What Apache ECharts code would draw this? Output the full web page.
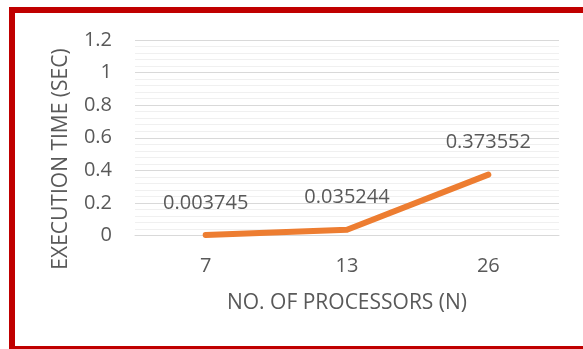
<!DOCTYPE html>
<html>
<head>
<meta charset="utf-8">
<script src="https://cdn.jsdelivr.net/npm/echarts@6/dist/echarts.min.js"></script>
<style>html,body{margin:0;padding:0;background:#fff;}#c{width:583px;height:349px;}</style>
</head>
<body>
<div id="c"></div>
<script>
const categories = ['7', '13', '26'];
const values = [0.003745, 0.035244, 0.373552];
const yMin = 0, yMax = 1.2, yInterval = 0.2;
const xTitle = 'NO. OF PROCESSORS (N)';
const yTitle = 'EXECUTION TIME (SEC)';

const FONT = 'Open Sans';
const GREY = '#595959';
const chart = echarts.init(document.getElementById('c'), null, {renderer: 'canvas'});
chart.setOption({
  backgroundColor: '#ffffff',
  animation: false,
  grid: {left: 135, right: 24, top: 40, bottom: 113.5, containLabel: false},
  xAxis: {
    type: 'category',
    data: categories,
    boundaryGap: true,
    axisLine: {show: true, lineStyle: {color: '#d9d9d9', width: 1}},
    axisTick: {show: false},
    axisLabel: {color: GREY, fontFamily: FONT, fontSize: 20, margin: 21}
  },
  yAxis: {
    type: 'value',
    min: yMin, max: yMax, interval: yInterval,
    axisLine: {show: false},
    axisTick: {show: false},
    axisLabel: {color: GREY, fontFamily: FONT, fontSize: 20, margin: 23},
    splitLine: {show: true, lineStyle: {color: '#d9d9d9', width: 1}},
    minorTick: {show: false, splitNumber: 5},
    minorSplitLine: {show: true, lineStyle: {color: '#f0f0f0', width: 1}}
  },
  series: [{
    type: 'line',
    data: values,
    symbol: 'circle',
    symbolSize: 0.1,
    showSymbol: true,
    lineStyle: {color: '#ED7D31', width: 6, cap: 'round', join: 'round'},
    itemStyle: {color: '#ED7D31'},
    label: {
      show: true, position: 'top', distance: 22,
      color: GREY, fontFamily: FONT, fontSize: 20,
      formatter: p => String(p.value)
    }
  }],
  graphic: [
    {type: 'rect', shape: {x: 9, y: 7, width: 600, height: 6}, style: {fill: '#C00000'}},
    {type: 'rect', shape: {x: 9, y: 7, width: 6, height: 342}, style: {fill: '#C00000'}},
    {type: 'rect', shape: {x: 9, y: 346, width: 600, height: 3}, style: {fill: '#C00000'}},
    {type: 'text', x: 61, y: 159, rotation: Math.PI / 2,
      style: {text: yTitle, fill: GREY, font: '21px "' + FONT + '"', textAlign: 'center', textVerticalAlign: 'middle'}},
    {type: 'text', x: 347, y: 303,
      style: {text: xTitle, fill: GREY, font: '21px "' + FONT + '"', textAlign: 'center', textVerticalAlign: 'middle'}}
  ]
});
</script>
</body>
</html>
